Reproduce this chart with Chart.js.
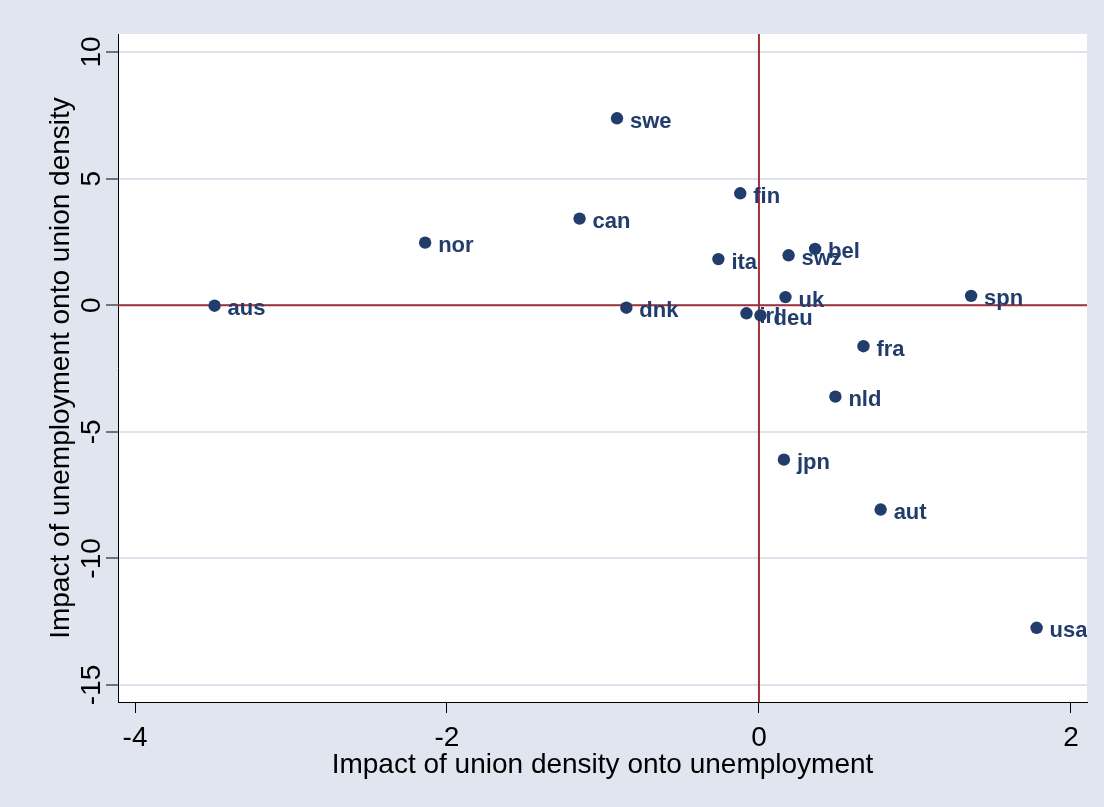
<!DOCTYPE html>
<html>
<head>
<meta charset="utf-8">
<script src="https://cdn.jsdelivr.net/npm/chart.js@4.4.1/dist/chart.umd.min.js"></script>
<style>
  html, body { margin: 0; padding: 0; background: #e0e5ef; }
  #wrap { width: 1104px; height: 807px; position: relative; }
</style>
</head>
<body>
<div id="wrap"><canvas id="chart"></canvas></div>
<script>
// country codes and the two estimated impacts for each
const countries = ['aus', 'nor', 'can', 'swe', 'dnk', 'ita', 'fin', 'irl', 'deu', 'uk',
                   'swz', 'bel', 'nld', 'jpn', 'fra', 'aut', 'spn', 'usa'];
const densityOnUnemp = [-3.49, -2.14, -1.15, -0.91, -0.85, -0.26, -0.12, -0.08, 0.01, 0.17,
                        0.19, 0.36, 0.49, 0.16, 0.67, 0.78, 1.36, 1.78];
const unempOnDensity = [-0.02, 2.47, 3.42, 7.38, -0.10, 1.82, 4.42, -0.32, -0.40, 0.32,
                        1.97, 2.22, -3.61, -6.10, -1.62, -8.07, 0.37, -12.74];
const xTicks = [-4, -2, 0, 2];
const yTicks = [-15, -10, -5, 0, 5, 10];

const navy = '#223c6c';
const maroon = '#a0313a';
const gridGray = '#dde2ec';

const points = countries.map((c, i) => ({ x: densityOnUnemp[i], y: unempOnDensity[i] }));

// white plot region on the grey page
const plotBackground = {
    id: 'plotBackground',
    beforeDraw(chart) {
        const { ctx, chartArea: a } = chart;
        ctx.save();
        ctx.fillStyle = '#ffffff';
        ctx.fillRect(a.left, a.top, a.right - a.left, a.bottom - a.top);
        ctx.restore();
    }
};

// reference lines at x = 0 and y = 0
const zeroLines = {
    id: 'zeroLines',
    beforeDatasetsDraw(chart) {
        const { ctx, chartArea: a, scales } = chart;
        const x0 = scales.x.getPixelForValue(0);
        const y0 = scales.y.getPixelForValue(0);
        ctx.save();
        ctx.strokeStyle = maroon;
        ctx.lineWidth = 2;
        ctx.beginPath();
        ctx.moveTo(x0, a.top);
        ctx.lineTo(x0, a.bottom);
        ctx.moveTo(a.left, y0);
        ctx.lineTo(a.right, y0);
        ctx.stroke();
        ctx.restore();
    }
};

// country code to the right of each marker
const pointLabels = {
    id: 'pointLabels',
    afterDatasetsDraw(chart) {
        const { ctx } = chart;
        const meta = chart.getDatasetMeta(0);
        ctx.save();
        ctx.beginPath();
        ctx.rect(chart.chartArea.left, chart.chartArea.top,
                 chart.chartArea.right - chart.chartArea.left, chart.chartArea.bottom - chart.chartArea.top);
        ctx.clip();
        ctx.font = 'bold 22px "Liberation Sans", Arial, sans-serif';
        ctx.fillStyle = navy;
        ctx.textAlign = 'left';
        ctx.textBaseline = 'alphabetic';
        meta.data.forEach((el, i) => {
            ctx.fillText(countries[i], el.x + 13, el.y + 9.5);
        });
        ctx.restore();
    }
};

const axisFont = { family: '"Liberation Sans", Arial, sans-serif', size: 28 };

const ctx = document.getElementById('chart').getContext('2d');
const myChart = new Chart(ctx, {
    type: 'scatter',
    data: {
        datasets: [{
            data: points,
            backgroundColor: navy,
            borderWidth: 0,
            pointRadius: 6.2,
            pointHoverRadius: 6.2
        }]
    },
    options: {
        responsive: true,
        maintainAspectRatio: false,
        animation: false,
        events: [],
        layout: { padding: { top: 34, right: 17, bottom: 0, left: 0 } },
        plugins: { legend: { display: false }, tooltip: { enabled: false } },
        scales: {
            x: {
                type: 'linear',
                min: -4.109,
                max: 2.103,
                afterBuildTicks: scale => { scale.ticks = xTicks.map(v => ({ value: v })); },
                afterFit: scale => { scale.height = 105; },
                grid: { drawOnChartArea: false, tickLength: 11, tickColor: '#000', tickWidth: 1 },
                border: { color: '#000', width: 1 },
                ticks: { color: '#000', font: axisFont, padding: 8, maxRotation: 0 },
                title: {
                    display: true,
                    text: 'Impact of union density onto unemployment',
                    color: '#000',
                    font: axisFont,
                    padding: { top: 0, bottom: 25 }
                }
            },
            y: {
                type: 'linear',
                min: -15.67,
                max: 10.71,
                afterBuildTicks: scale => { scale.ticks = yTicks.map(v => ({ value: v })); },
                afterFit: scale => { scale.width = 118; },
                grid: {
                    color: gridGray,
                    lineWidth: 2,
                    tickLength: 12,
                    tickColor: '#000',
                    tickWidth: 1
                },
                border: { color: '#000', width: 1 },
                ticks: {
                    color: '#000',
                    font: axisFont,
                    minRotation: 90,
                    maxRotation: 90,
                    crossAlign: 'center',
                    padding: -7
                },
                title: {
                    display: true,
                    text: 'Impact of unemployment onto union density',
                    color: '#000',
                    font: axisFont,
                    padding: { top: 44, bottom: 0 }
                }
            }
        }
    },
    plugins: [plotBackground, zeroLines, pointLabels]
});
</script>
</body>
</html>
